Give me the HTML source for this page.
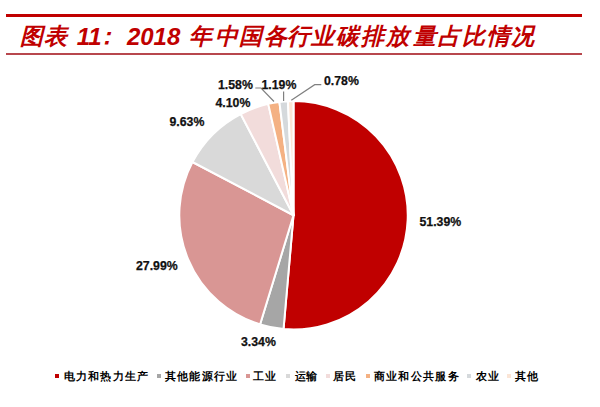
<!DOCTYPE html>
<html><head><meta charset="utf-8">
<style>
html,body{margin:0;padding:0;background:#fff;}
body{width:600px;height:407px;position:relative;overflow:hidden;font-family:"Liberation Sans",sans-serif;}
.l1{position:absolute;left:6px;top:14.1px;width:576px;height:3.4px;background:#C00000;}
.l2{position:absolute;left:6px;top:53.2px;width:576px;height:1.6px;background:#B8474D;}
.title{position:absolute;top:22px;height:28px;line-height:28px;font-size:23px;font-weight:bold;font-style:italic;color:#C00000;white-space:nowrap;}
svg{position:absolute;left:0;top:0;}
.lab text{font-family:"Liberation Sans",sans-serif;font-weight:bold;font-size:12.3px;fill:#111;stroke:#111;stroke-width:0.25px;}
.tnum{font-size:24px;top:22.6px;}
.sq{position:absolute;top:374.4px;width:3.9px;height:3.9px;}
.lt{position:absolute;top:368.6px;height:16px;line-height:16px;font-family:"Liberation Serif",serif;font-weight:bold;font-size:10.5px;color:#000;white-space:nowrap;letter-spacing:0.75px;}
</style></head><body>
<div class="l1"></div>
<div class="l2"></div>
<div class="title" style="left:20.30px">图</div>
<div class="title" style="left:43.75px">表</div>
<div class="title tnum" style="left:76.80px">11</div>
<div class="title" style="left:94.60px">：</div>
<div class="title tnum" style="left:126.90px">2018</div>
<div class="title" style="left:188.60px">年</div>
<div class="title" style="left:214.70px">中</div>
<div class="title" style="left:238.50px">国</div>
<div class="title" style="left:264.20px">各</div>
<div class="title" style="left:286.90px">行</div>
<div class="title" style="left:310.80px">业</div>
<div class="title" style="left:336.40px">碳</div>
<div class="title" style="left:360.60px">排</div>
<div class="title" style="left:385.80px">放</div>
<div class="title" style="left:412.50px">量</div>
<div class="title" style="left:437.75px">占</div>
<div class="title" style="left:461.50px">比</div>
<div class="title" style="left:486.70px">情</div>
<div class="title" style="left:511.00px">况</div>
<svg width="600" height="407" viewBox="0 0 600 407">
<g stroke="#fff" stroke-width="2" stroke-linejoin="round">
<path d="M293.5,215.25 L293.50,101.05 A114.2,114.2 0 1 1 283.54,329.01 Z" fill="#C00000"/>
<path d="M293.5,215.25 L283.54,329.01 A114.2,114.2 0 0 1 260.06,324.44 Z" fill="#A6A6A6"/>
<path d="M293.5,215.25 L260.06,324.44 A114.2,114.2 0 0 1 192.47,162.00 Z" fill="#D99694"/>
<path d="M293.5,215.25 L192.47,162.00 A114.2,114.2 0 0 1 240.70,113.99 Z" fill="#D9D9D9"/>
<path d="M293.5,215.25 L240.70,113.99 A114.2,114.2 0 0 1 268.24,103.88 Z" fill="#F2DCDB"/>
<path d="M293.5,215.25 L268.24,103.88 A114.2,114.2 0 0 1 279.40,101.92 Z" fill="#F4B183"/>
<path d="M293.5,215.25 L279.40,101.92 A114.2,114.2 0 0 1 287.91,101.19 Z" fill="#D5D9DC"/>
<path d="M293.5,215.25 L287.91,101.19 A114.2,114.2 0 0 1 293.50,101.05 Z" fill="#FBE5D6"/>
</g>
<g fill="none" stroke="#808080" stroke-width="1.2">

<polyline points="255.3,88 261,88 274,101.5" />
<polyline points="283.6,91.6 283.6,101" />
<polyline points="321.3,84.7 314.7,84.7 291.3,100.3" />

</g>
<g class="lab">
<text x="419.5" y="225.6">51.39%</text>
<text x="241" y="346.1">3.34%</text>
<text x="136" y="270.1">27.99%</text>
<text x="169.5" y="126.1">9.63%</text>
<text x="215.5" y="106.6">4.10%</text>
<text x="218" y="88.6">1.58%</text>
<text x="261.5" y="88.6">1.19%</text>
<text x="324" y="84.8">0.78%</text>
</g>
</svg>
<div class="sq" style="left:55.2px;background:#C00000"></div><div class="lt" style="left:63.5px;letter-spacing:1.25px">电力和热力生产</div>
<div class="sq" style="left:157px;background:#A6A6A6"></div><div class="lt" style="left:164.75px;letter-spacing:1.25px">其他能源行业</div>
<div class="sq" style="left:245.75px;background:#D99694"></div><div class="lt" style="left:253.25px;letter-spacing:0.4px">工业</div>
<div class="sq" style="left:286px;background:#D9D9D9"></div><div class="lt" style="left:294.75px;letter-spacing:0.4px">运输</div>
<div class="sq" style="left:326px;background:#F2DCDB"></div><div class="lt" style="left:332.5px;letter-spacing:1.25px">居民</div>
<div class="sq" style="left:366px;background:#F4B183"></div><div class="lt" style="left:373.5px;letter-spacing:1.4px">商业和公共服务</div>
<div class="sq" style="left:467px;background:#D5D9DC"></div><div class="lt" style="left:476px;letter-spacing:1.25px">农业</div>
<div class="sq" style="left:507px;background:#FBE5D6"></div><div class="lt" style="left:514.75px;letter-spacing:1.25px">其他</div>
</body></html>
